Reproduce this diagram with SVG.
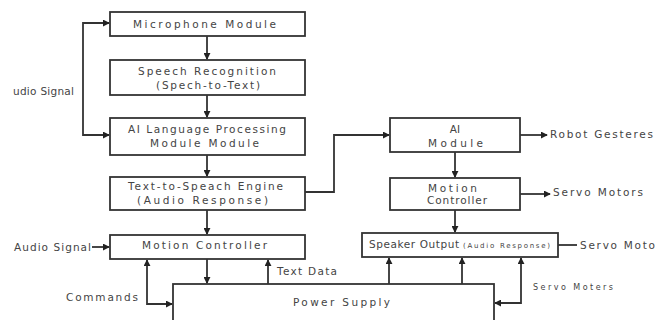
<svg xmlns="http://www.w3.org/2000/svg" width="657" height="320" viewBox="0 0 657 320">
<style>
.box{fill:#fff;stroke:#333;stroke-width:1.8}
.t{font-family:"DejaVu Sans","Liberation Sans",sans-serif;font-size:10.5px;fill:#444}
.s{font-size:7px}
.c{fill:none;stroke:#333;stroke-width:1.8}
</style>
<defs>
<marker id="a" viewBox="0 0 8 8" refX="7" refY="4" markerWidth="7" markerHeight="7" markerUnits="userSpaceOnUse" orient="auto-start-reverse">
<path d="M0,0 L8,4 L0,8 Z" fill="#222"/>
</marker>
</defs>
<rect width="657" height="320" fill="#fff"/>
<g id="connectors">
<path class="c" d="M207,36 V59" marker-end="url(#a)"/>
<path class="c" d="M207,95 V117" marker-end="url(#a)"/>
<path class="c" d="M207,155 V176" marker-end="url(#a)"/>
<path class="c" d="M207,210 V234" marker-end="url(#a)"/>
<path class="c" d="M83,79 V23 H109" marker-end="url(#a)"/>
<path class="c" d="M83,79 V135 H109" marker-end="url(#a)"/>
<path class="c" d="M92,247 H109" marker-end="url(#a)"/>
<path class="c" d="M147,260 V304 H172" marker-start="url(#a)" marker-end="url(#a)"/>
<path class="c" d="M207,259 V283" marker-end="url(#a)"/>
<path class="c" d="M268,284 V260" marker-end="url(#a)"/>
<path class="c" d="M305,192 H334 V135 H389" marker-end="url(#a)"/>
<path class="c" d="M520,135 H547" marker-end="url(#a)"/>
<path class="c" d="M455,152 V177" marker-end="url(#a)"/>
<path class="c" d="M520,194 H550" marker-end="url(#a)"/>
<path class="c" d="M455,210 V232" marker-end="url(#a)"/>
<path class="c" d="M558,245 H577"/>
<path class="c" d="M389,284 V258" marker-end="url(#a)"/>
<path class="c" d="M462,284 V258" marker-end="url(#a)"/>
<path class="c" d="M495,303 H521 V258" marker-start="url(#a)" marker-end="url(#a)"/>
</g>
<g id="mic"><rect class="box" x="110" y="12" width="195" height="24"/><text class="t" x="133" y="27.5" textLength="143" lengthAdjust="spacing">Microphone Module</text></g>
<g id="speech"><rect class="box" x="110" y="60" width="195" height="35"/><text class="t" x="138" y="75" textLength="138" lengthAdjust="spacing">Speech Recognition</text><text class="t" x="156" y="89" textLength="104" lengthAdjust="spacing">(Spech-to-Text)</text></g>
<g id="ailang"><rect class="box" x="110" y="118" width="195" height="37"/><text class="t" x="128" y="133" textLength="158" lengthAdjust="spacing">AI Language Processing</text><text class="t" x="150" y="147" textLength="109" lengthAdjust="spacing">Module Module</text></g>
<g id="tts"><rect class="box" x="110" y="177" width="195" height="33"/><text class="t" x="128" y="189.5" textLength="155" lengthAdjust="spacing">Text-to-Speach Engine</text><text class="t" x="137" y="203.5" textLength="131" lengthAdjust="spacing">(Audio Response)</text></g>
<g id="mcleft"><rect class="box" x="110" y="235" width="195" height="24"/><text class="t" x="142" y="248.5" textLength="125" lengthAdjust="spacing">Motion Controller</text></g>
<g id="power"><rect class="box" x="173" y="284" width="321" height="50"/><text class="t" x="293" y="306" textLength="97" lengthAdjust="spacing">Power Supply</text></g>
<g id="aimodule"><rect class="box" x="390" y="118" width="130" height="34"/><text class="t" x="455" y="133" text-anchor="middle">AI</text><text class="t" x="428" y="146.5" textLength="55" lengthAdjust="spacing">Module</text></g>
<g id="mcright"><rect class="box" x="390" y="178" width="130" height="32"/><text class="t" x="428" y="191.5" textLength="49" lengthAdjust="spacing">Motion</text><text class="t" x="427" y="204" textLength="60" lengthAdjust="spacing">Controller</text></g>
<g id="speaker"><rect class="box" x="362" y="233" width="196" height="24"/><text class="t" x="369" y="248" textLength="90" lengthAdjust="spacing">Speaker Output</text><text class="t s" x="463" y="248" textLength="87" lengthAdjust="spacing">(Audio Response)</text></g>
<g id="labels">
<text class="t" x="13" y="94.5" textLength="61" lengthAdjust="spacing">udio Signal</text>
<text class="t" x="14" y="250.5" textLength="77" lengthAdjust="spacing">Audio Signal</text>
<text class="t" x="66" y="300.5" textLength="72" lengthAdjust="spacing">Commands</text>
<text class="t" x="277" y="274.5" textLength="60" lengthAdjust="spacing">Text Data</text>
<text class="t" x="550" y="137.5" textLength="103" lengthAdjust="spacing">Robot Gesteres</text>
<text class="t" x="553" y="195.5" textLength="90" lengthAdjust="spacing">Servo Motors</text>
<text class="t" x="580" y="248.5" textLength="75" lengthAdjust="spacing">Servo Moto</text>
<text class="t" x="533" y="289.5" textLength="80" lengthAdjust="spacing" style="font-size:8px">Servo Moters</text>
</g>
</svg>
